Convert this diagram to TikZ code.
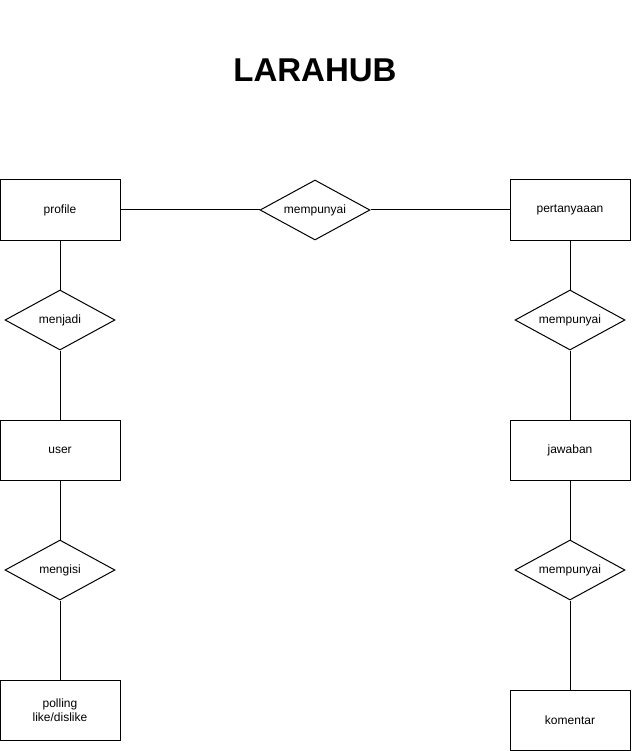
\documentclass[tikz,border=0pt]{standalone}
\usepackage{fontspec}
\setmainfont{Liberation Sans}
\usetikzlibrary{shapes.geometric}

\begin{document}
\begin{tikzpicture}[x=1pt, y=-1pt, line width=1pt]
	\tikzstyle{entite}=[rectangle, draw, minimum width=120pt, minimum height=60pt, inner sep=0pt, align=center, font=\fontsize{12}{14}\selectfont]
	\tikzstyle{relation}=[diamond, draw, aspect=1.8333, minimum width=110pt, minimum height=60pt, inner sep=0pt, font=\fontsize{12}{14}\selectfont]

	\useasboundingbox (0,0) rectangle (631,751);

	% TITRE
	\node[font=\fontsize{33}{40}\selectfont\bfseries] (titre) at (315,70) {LARAHUB};

	% ENTITES
	\node[entite] (profile) at (60,210) {profile};
	\node[entite] (user) at (60,450) {user};
	\node[entite] (polling) at (60,710) {polling\\like/dislike};
	\node[entite] (pertanyaan) at (570,210) {pertanyaaan};
	\node[entite] (jawaban) at (570,450) {jawaban};
	\node[entite] (komentar) at (570,720) {komentar};

	% RELATIONS
	\node[relation] (R0) at (315,210) {mempunyai};
	\node[relation] (R1) at (60,320) {menjadi};
	\node[relation] (R2) at (60,570) {mengisi};
	\node[relation] (R3) at (570,320) {mempunyai};
	\node[relation] (R4) at (570,570) {mempunyai};

	% LIENS
	\path
		(profile) edge (R0)
		(R0) edge (pertanyaan)

		(profile) edge (R1)
		(R1) edge (user)
		(user) edge (R2)
		(R2) edge (polling)

		(pertanyaan) edge (R3)
		(R3) edge (jawaban)
		(jawaban) edge (R4)
		(R4) edge (komentar)
	;
\end{tikzpicture}
\end{document}
